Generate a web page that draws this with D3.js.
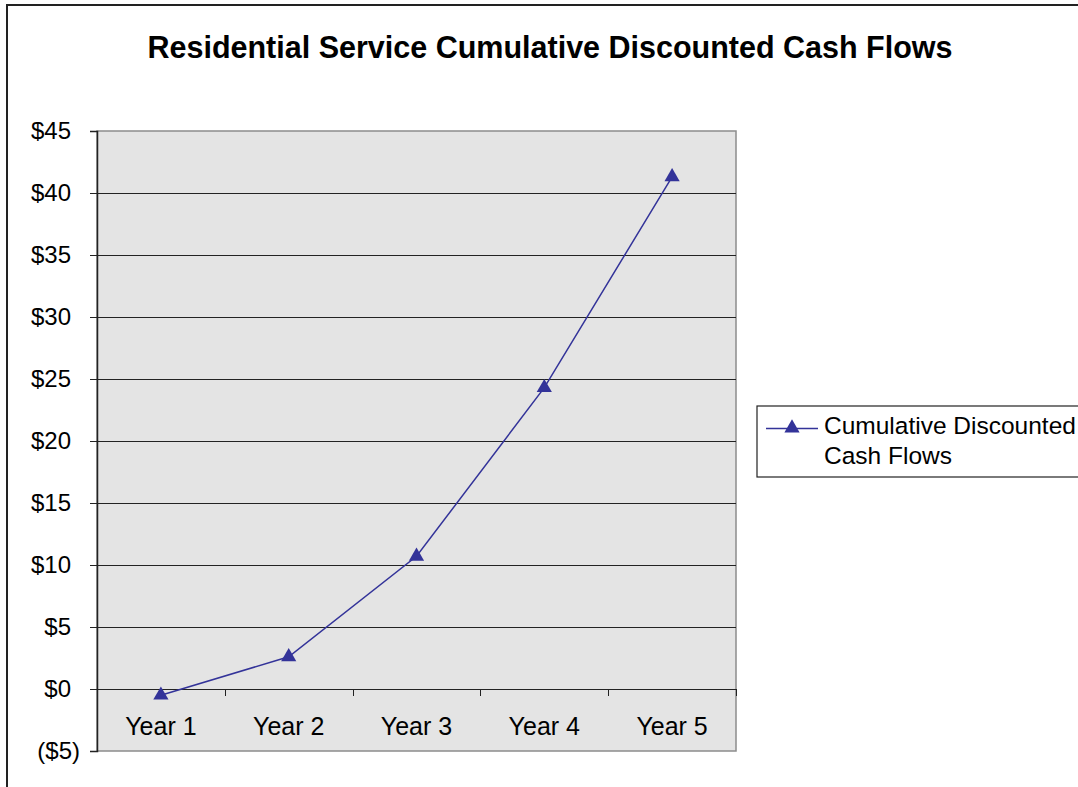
<!DOCTYPE html>
<html>
<head>
<meta charset="utf-8">
<script src="https://cdn.jsdelivr.net/npm/d3@7"></script>
<style>
  html, body { margin: 0; padding: 0; background: #fff; }
  svg { display: block; font-family: "Liberation Sans", Arial, sans-serif; }
</style>
</head>
<body>
<svg id="chart" width="1078" height="787"></svg>
<script>
// Chart data
const categories = ["Year 1", "Year 2", "Year 3", "Year 4", "Year 5"];
const cumulativeValues = [-0.5, 2.6, 10.7, 24.3, 41.3];
const yTicks = [-5, 0, 5, 10, 15, 20, 25, 30, 35, 40, 45];
const seriesName = ["Cumulative Discounted", "Cash Flows"];
const chartTitle = "Residential Service Cumulative Discounted Cash Flows";

const svg = d3.select("#chart");
const W = 1078, H = 787;
const plot = { left: 97, right: 736, top: 131, bottom: 751 };
const lineColor = "#333399";
const labelSize = 24;

// Outer chart frame (extends past the right and bottom edges)
svg.append("rect")
  .attr("x", 7).attr("y", 5)
  .attr("width", W + 20).attr("height", H + 20)
  .attr("fill", "#fff").attr("stroke", "#222").attr("stroke-width", 2);

// Title
svg.append("text")
  .attr("x", 550).attr("y", 58)
  .attr("text-anchor", "middle")
  .attr("font-size", 30.5).attr("font-weight", "bold")
  .attr("fill", "#000")
  .text(chartTitle);

const x = d3.scaleBand().domain(categories).range([plot.left, plot.right]).padding(0);
const y = d3.scaleLinear().domain([-5, 45]).range([plot.bottom, plot.top]);

// Plot background
svg.append("rect")
  .attr("x", plot.left).attr("y", plot.top)
  .attr("width", plot.right - plot.left).attr("height", plot.bottom - plot.top)
  .attr("fill", "#e4e4e4").attr("stroke", "#8c8c8c").attr("stroke-width", 1.5);

// Horizontal gridlines
svg.append("g")
  .selectAll("line")
  .data(yTicks.filter(v => v !== -5 && v !== 45))
  .join("line")
  .attr("x1", plot.left).attr("x2", plot.right)
  .attr("y1", d => Math.round(y(d)) + 0.5).attr("y2", d => Math.round(y(d)) + 0.5)
  .attr("stroke", "#222").attr("stroke-width", 1);

// Y axis (accounting format: positives leave room for the closing parenthesis)
const yAxis = d3.axisLeft(y)
  .tickValues(yTicks)
  .tickSize(7)
  .tickPadding(10)
  .tickFormat(d => d < 0 ? `($${Math.abs(d)})` : `$${d}`);
const gy = svg.append("g")
  .attr("transform", `translate(${plot.left},0)`)
  .call(yAxis);
gy.select(".domain").attr("stroke", "#222").attr("stroke-width", 1.5);
gy.selectAll(".tick line").attr("stroke", "#222");
gy.selectAll(".tick text")
  .attr("dx", d => d < 0 ? 0 : -9)
  .attr("font-size", labelSize).attr("fill", "#000")
  .attr("font-family", "Liberation Sans, Arial, sans-serif");

// Category axis across the zero line
const xAxis = d3.axisBottom(x).tickSize(0).tickPadding(0);
const gx = svg.append("g")
  .attr("transform", `translate(0,${y(0)})`)
  .call(xAxis);
gx.select(".domain").remove();
gx.selectAll(".tick text")
  .attr("y", 46)
  .attr("dy", 0)
  .attr("font-size", 25).attr("fill", "#000")
  .attr("font-family", "Liberation Sans, Arial, sans-serif");
// Category boundary ticks
gx.append("g")
  .selectAll("line")
  .data(categories.slice(1).map(c => x(c)).concat([plot.right]))
  .join("line")
  .attr("x1", d => Math.round(d) + 0.5).attr("x2", d => Math.round(d) + 0.5)
  .attr("y1", 0).attr("y2", 7)
  .attr("stroke", "#222");

// Series line
const cx = c => x(c) + x.bandwidth() / 2;
const line = d3.line()
  .x((d, i) => cx(categories[i]))
  .y(d => y(d));
svg.append("path")
  .datum(cumulativeValues)
  .attr("d", line)
  .attr("fill", "none")
  .attr("stroke", lineColor)
  .attr("stroke-width", 1.5);

// Triangle markers
const tri = d3.symbol().type(d3.symbolTriangle).size(100);
svg.append("g")
  .selectAll("path")
  .data(cumulativeValues)
  .join("path")
  .attr("d", tri)
  .attr("transform", (d, i) => `translate(${cx(categories[i])},${y(d)})`)
  .attr("fill", lineColor);

// Legend
const lg = svg.append("g");
lg.append("rect")
  .attr("x", 757).attr("y", 406)
  .attr("width", 400).attr("height", 71)
  .attr("fill", "#fff").attr("stroke", "#222").attr("stroke-width", 1.2);
lg.append("line")
  .attr("x1", 766).attr("x2", 818)
  .attr("y1", 428.5).attr("y2", 428.5)
  .attr("stroke", lineColor).attr("stroke-width", 1.5);
lg.append("path")
  .attr("d", tri)
  .attr("transform", "translate(792,428)")
  .attr("fill", lineColor);
lg.selectAll("text.leg")
  .data(seriesName)
  .join("text")
  .attr("class", "leg")
  .attr("x", 824)
  .attr("y", (d, i) => 434 + i * 30)
  .attr("font-size", 24.5).attr("fill", "#000")
  .text(d => d);
</script>
</body>
</html>
